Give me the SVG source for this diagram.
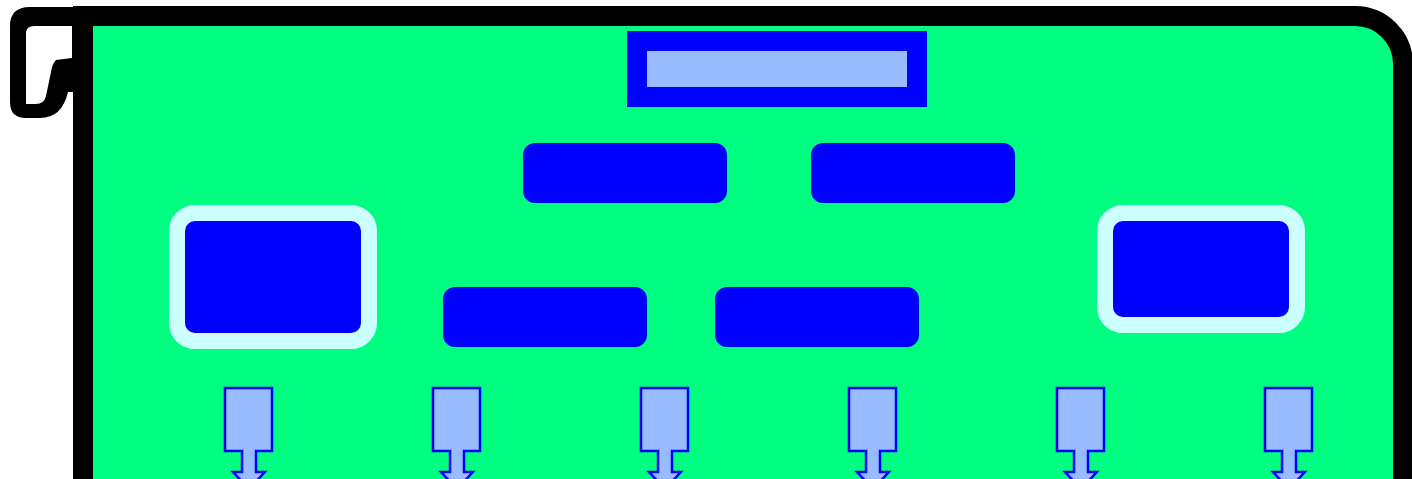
<svg xmlns="http://www.w3.org/2000/svg" width="1412" height="479" viewBox="0 0 1412 479">
<style>
.bg{fill:#ffffff}
.scroll{fill:#00ff80;stroke:#000000;stroke-width:20}
.curl{fill:#000000}
.curlin{fill:#ffffff}
.title{fill:#99bbff;stroke:#0000ff;stroke-width:20}
.box{fill:#0000ff}
.big{fill:#0000ff;stroke:#ccffff;stroke-width:16}
.doc{fill:#99bbff;stroke:#0000ff;stroke-width:2.5;stroke-linejoin:miter}
</style>
<rect class="bg" x="0" y="0" width="1412" height="479"/>
<g id="scroll">
<path class="scroll" d="M83,16 L1355,16 A48,48 0 0 1 1403,64 L1403,520 L83,520 Z"/>
<path class="curl" d="M30,7 L93,7 L93,92 L68,92 Q62,118 40,118 L26,118 Q10,118 10,102 L10,26 Q10,7 30,7 Z"/>
<path class="curlin" d="M26,32 Q27,26 34,26 L72,26 L72,58 L56,60 Q52,64 51,72 L46,96 Q44,104 36,104 L26,104 Z"/>
</g>
<g id="title">
<rect class="title" x="637" y="41" width="280" height="56"/>
</g>
<g id="box1"><rect class="box" x="523" y="143" width="204" height="60" rx="12"/></g>
<g id="box2"><rect class="box" x="811" y="143" width="204" height="60" rx="12"/></g>
<g id="box3"><rect class="box" x="443" y="287" width="204" height="60" rx="12"/></g>
<g id="box4"><rect class="box" x="715" y="287" width="204" height="60" rx="12"/></g>
<g id="big1"><rect class="big" x="177" y="213" width="192" height="128" rx="18"/></g>
<g id="big2"><rect class="big" x="1105" y="213" width="192" height="112" rx="18"/></g>
<g id="connectors">
<path class="doc" d="M225,388 H272 V451 H256 V472 H265 L249,489 L233,472 H242 V451 H225 Z"/>
<path class="doc" transform="translate(208,0)" d="M225,388 H272 V451 H256 V472 H265 L249,489 L233,472 H242 V451 H225 Z"/>
<path class="doc" transform="translate(416,0)" d="M225,388 H272 V451 H256 V472 H265 L249,489 L233,472 H242 V451 H225 Z"/>
<path class="doc" transform="translate(624,0)" d="M225,388 H272 V451 H256 V472 H265 L249,489 L233,472 H242 V451 H225 Z"/>
<path class="doc" transform="translate(832,0)" d="M225,388 H272 V451 H256 V472 H265 L249,489 L233,472 H242 V451 H225 Z"/>
<path class="doc" transform="translate(1040,0)" d="M225,388 H272 V451 H256 V472 H265 L249,489 L233,472 H242 V451 H225 Z"/>
</g>
</svg>
